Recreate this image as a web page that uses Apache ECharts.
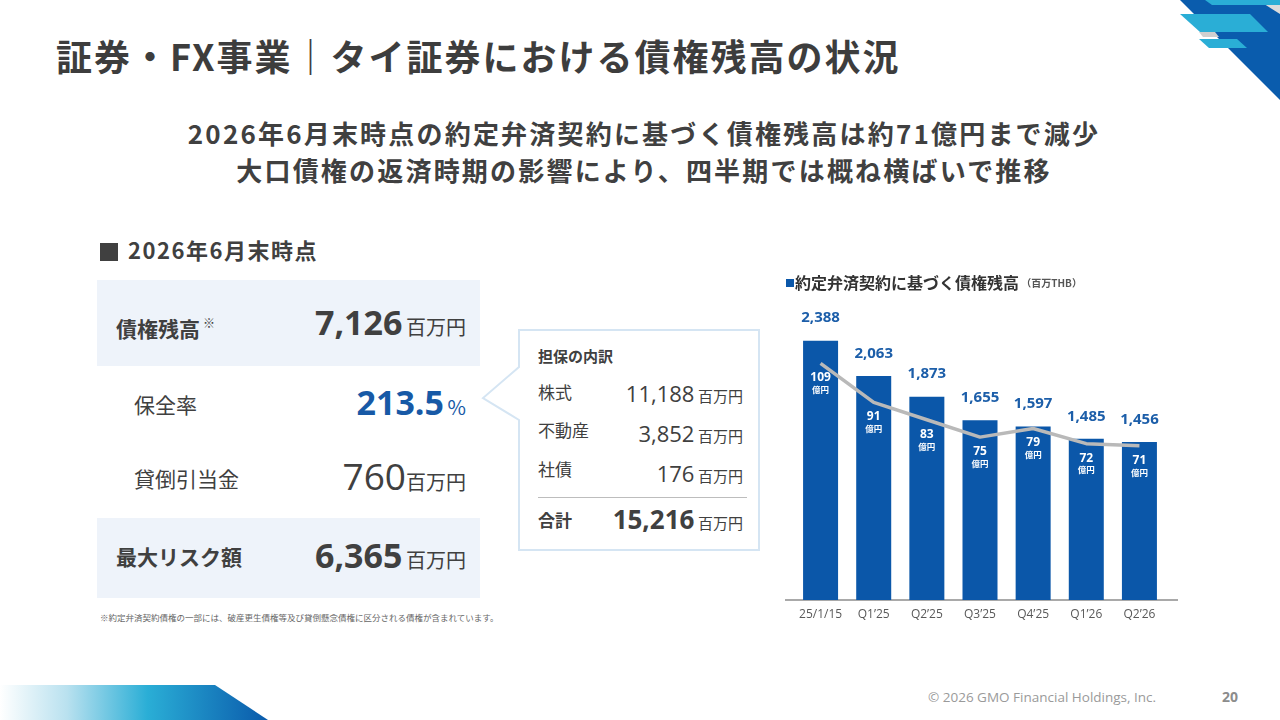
<!DOCTYPE html>
<html>
<head>
<meta charset="utf-8">
<script src="https://cdn.jsdelivr.net/npm/echarts@6/dist/echarts.min.js"></script>
<style>
  body { margin: 0; background: #fff; }
  #page { position: relative; width: 1280px; height: 720px; overflow: hidden; background: #fff;
    font-family: "Noto Sans CJK JP", "Noto Sans", sans-serif; color: #404040; }
  .abs { position: absolute; white-space: nowrap; }
  .num { font-family: "Open Sans", "Noto Sans CJK JP", sans-serif; }
  .title { left: 56px; top: 31px; font-size: 36px; font-weight: 700; letter-spacing: 2px; color: #3d3d3d; line-height: 48px; }
  .sub { left: 0; width: 1288px; text-align: center; font-size: 26px; font-weight: 700; letter-spacing: 2.2px; color: #404040; line-height: 36px; }
  .box { background: #eef3fa; }
  .lbl { font-size: 21px; line-height: 30px; }
  .unit { font-size: 20px; }
  .row { right: 814px; text-align: right; line-height: 40px; }
  .co { font-size: 17px; line-height: 24px; }
  .cov { right: 537px; text-align: right; line-height: 30px; }
  .cou { font-size: 15px; }
  #chart { position: absolute; left: 770px; top: 265px; width: 420px; height: 370px; }
</style>
</head>
<body>
<div id="page">
  <!-- decorations -->
  <svg class="abs" style="left:0;top:0" width="1280" height="720">
    <defs>
      <linearGradient id="band" x1="0" y1="0" x2="1" y2="0">
        <stop offset="0" stop-color="#ffffff"/>
        <stop offset="0.25" stop-color="#b9e1ef"/>
        <stop offset="0.55" stop-color="#2aaed6"/>
        <stop offset="1" stop-color="#0a5aab"/>
      </linearGradient>
    </defs>
    <polygon points="0,685 215,685 268,720 0,720" fill="url(#band)"/>
    <polygon points="1180,0 1280,0 1280,100" fill="#0a5cad"/>
    <polygon points="1258,0 1280,0 1280,14" fill="#dcdcdc"/>
    <polygon points="1205,0 1280,0 1280,5 1212,5" fill="#2aaed6"/>
    <polygon points="1180,14 1250,14 1268,32 1200,32" fill="#2aaed6"/>
    <polygon points="1199,39 1237,39 1247,48 1209,48" fill="#2aaed6"/>
    <polygon points="1199,32 1215,32 1219,37 1203,37" fill="#cfcfcf"/>
    <!-- callout box with pointer -->
    <path d="M519,330 L759,330 L759,550 L519,550 L519,420 L483,398 L519,367 Z" fill="#fff" stroke="#d5e5f3" stroke-width="2"/>
    <line x1="538" y1="497.5" x2="747" y2="497.5" stroke="#bdbdbd" stroke-width="1.2"/>
  </svg>

  <div class="abs title">証券・FX事業｜タイ証券における債権残高の状況</div>
  <div class="abs sub" style="top:115px">2026年6月末時点の約定弁済契約に基づく債権残高は約71億円まで減少</div>
  <div class="abs sub" style="top:152px">大口債権の返済時期の影響により、四半期では概ね横ばいで推移</div>

  <div class="abs" style="left:100px;top:234px;font-size:22px;font-weight:700;line-height:30px;color:#404040;letter-spacing:1.5px">
    <span style="display:inline-block;width:18px;height:18px;background:#404040;vertical-align:-2px;margin-right:10px"></span>2026年6月末時点</div>

  <div class="abs box" style="left:97px;top:280px;width:383px;height:86px"></div>
  <div class="abs box" style="left:97px;top:518px;width:383px;height:80px"></div>

  <div class="abs lbl" style="left:116px;top:308px;font-weight:700">債権残高<span style="font-size:12px;font-weight:400;vertical-align:9px;margin-left:3px">※</span></div>
  <div class="abs row" style="top:302px"><span class="num" style="font-size:34px;font-weight:700">7,126</span> <span class="unit">百万円</span></div>

  <div class="abs lbl" style="left:134px;top:389px">保全率</div>
  <div class="abs row" style="top:382px;color:#1759a6"><span class="num" style="font-size:34px;font-weight:700">213.5</span> <span class="unit">%</span></div>

  <div class="abs lbl" style="left:134px;top:463px">貸倒引当金</div>
  <div class="abs row" style="top:456px"><span class="num" style="font-size:37px">760</span><span class="unit">百万円</span></div>

  <div class="abs lbl" style="left:116px;top:541px;font-weight:700">最大リスク額</div>
  <div class="abs row" style="top:535px"><span class="num" style="font-size:34px;font-weight:700">6,365</span> <span class="unit">百万円</span></div>

  <div class="abs" style="left:100px;top:611px;font-size:8.5px;color:#666;line-height:12px">※約定弁済契約債権の一部には、破産更生債権等及び貸倒懸念債権に区分される債権が含まれています。</div>

  <div class="abs" style="left:538px;top:345px;font-size:15px;font-weight:700;line-height:22px">担保の内訳</div>
  <div class="abs co" style="left:538px;top:380px">株式</div>
  <div class="abs cov" style="top:378px"><span class="num" style="font-size:22px">11,188</span> <span class="cou">百万円</span></div>
  <div class="abs co" style="left:538px;top:418px">不動産</div>
  <div class="abs cov" style="top:418px"><span class="num" style="font-size:22px">3,852</span> <span class="cou">百万円</span></div>
  <div class="abs co" style="left:538px;top:457px">社債</div>
  <div class="abs cov" style="top:458px"><span class="num" style="font-size:22px">176</span> <span class="cou">百万円</span></div>
  <div class="abs co" style="left:538px;top:508px;font-weight:700">合計</div>
  <div class="abs cov" style="top:504px"><span class="num" style="font-size:26px;font-weight:700">15,216</span> <span class="cou">百万円</span></div>

  <div id="chart"></div>

  <div class="abs num" style="left:928px;top:688px;font-size:13.5px;color:#9a9a9a;line-height:18px">© 2026 GMO Financial Holdings, Inc.</div>
  <div class="abs num" style="left:1222px;top:687px;font-size:14px;font-weight:700;color:#8c8c8c;line-height:20px">20</div>
</div>

<script>
// 約定弁済契約に基づく債権残高
var categories = ['25/1/15', 'Q1’25', 'Q2’25', 'Q3’25', 'Q4’25', 'Q1’26', 'Q2’26'];
var balanceTHB = [2388, 2063, 1873, 1655, 1597, 1485, 1456];   // 百万THB
var balanceJPY = [109, 91, 83, 75, 79, 72, 71];                 // 億円

var myChart = echarts.init(document.getElementById('chart'));
myChart.setOption({
    animation: false,
    title: {
        left: 10,
        top: 5,
        text: '{sq|■}{t|約定弁済契約に基づく債権残高}{u| （百万THB）}',
        textStyle: {
            rich: {
                sq: { color: '#0b57a9', fontSize: 10, fontFamily: 'Noto Sans CJK JP' },
                t: { color: '#333', fontSize: 16, fontWeight: 'bold', fontFamily: 'Noto Sans CJK JP' },
                u: { color: '#555', fontSize: 10, fontFamily: 'Noto Sans CJK JP' }
            }
        }
    },
    grid: { left: 24, right: 24, top: 31, bottom: 35 },
    xAxis: {
        type: 'category',
        data: categories,
        axisLine: { show: false },
        axisTick: { show: false },
        axisLabel: { interval: 0, color: '#595959', fontSize: 12, margin: 9, fontFamily: 'Open Sans' }
    },
    yAxis: [
        { type: 'value', min: 0, max: 2800, show: false },
        { type: 'value', min: 0, max: 140, show: false }
    ],
    graphic: [{
        type: 'line',
        shape: { x1: 15, y1: 335, x2: 408, y2: 335 },
        style: { stroke: '#555', lineWidth: 1.2 }
    }],
    series: [{
        type: 'bar',
        data: balanceTHB,
        barWidth: 35,
        itemStyle: { color: '#0b57a9' },
        label: {
            show: true,
            position: 'top',
            distance: 15,
            color: '#1c5ea9',
            fontSize: 15,
            fontWeight: 'bold',
            fontFamily: 'Open Sans',
            formatter: function (p) { return p.value.toLocaleString('en-US'); }
        }
    }, {
        type: 'line',
        yAxisIndex: 1,
        data: balanceJPY,
        symbol: 'circle',
        symbolSize: 1,
        showSymbol: true,
        z: 5,
        itemStyle: { color: 'rgba(0,0,0,0)' },
        lineStyle: { color: '#b9b9b9', width: 3.5 },
        label: {
            show: true,
            position: 'bottom',
            distance: 7,
            formatter: '{v|{c}}\n{u|億円}',
            rich: {
                v: { color: '#fff', fontSize: 12, fontWeight: 'bold', fontFamily: 'Open Sans', lineHeight: 14, align: 'center' },
                u: { color: '#fff', fontSize: 8.5, fontWeight: 'bold', fontFamily: 'Noto Sans CJK JP', lineHeight: 10, align: 'center' }
            }
        }
    }]
});
</script>
</body>
</html>
